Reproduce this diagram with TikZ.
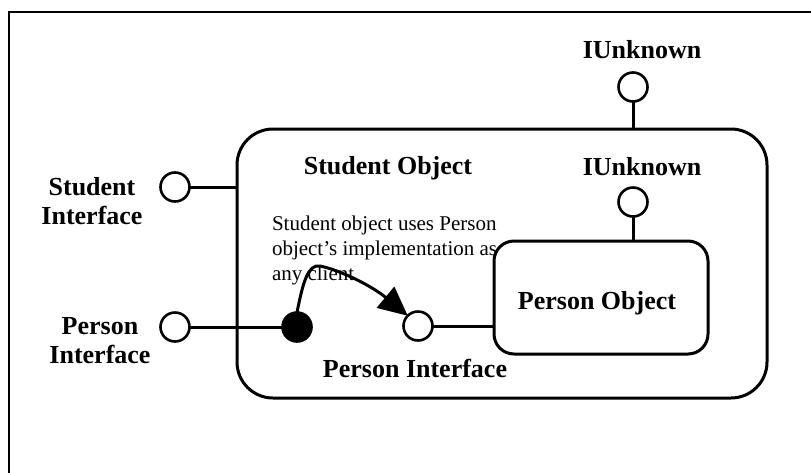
\documentclass[tikz,border=0pt]{standalone}
\usepackage{fontspec}
\setmainfont{Liberation Serif}
\usetikzlibrary{arrows.meta}
\begin{document}
\begin{tikzpicture}[x=1pt,y=-1pt,
  every node/.style={inner sep=0pt, outer sep=0pt},
  lbl/.style={font=\fontsize{26}{29}\selectfont\bfseries, align=center},
  note/.style={font=\fontsize{21}{25}\selectfont, align=left, anchor=north west},
  port/.style={circle, draw, line width=2.6pt, fill=white, minimum size=29pt},
  dotport/.style={port, fill=black},
  objbox/.style={draw, rounded corners=#1, line width=3pt},
  wire/.style={line width=3pt},
  frame/.style={line width=2.8pt},
  uses/.style={line width=3pt, -{Triangle[length=29pt,width=27pt]}}
]
\useasboundingbox (0,0) rectangle (811,472);
\clip (0,0) rectangle (811,472);

% page frame (runs off the right and bottom edges)
\draw[frame] (9,12) rectangle (840,500);

% containing object
\node[objbox=36pt, minimum width=530pt, minimum height=269pt] (student) at (502,263.5) {};
\node[lbl] (studentlbl) at (388,168) {Student Object};

% annotation, partly covered by the inner object
\node[note] (note) at (272,215.5) {Student object uses Person\\object's implementation as\\any client};

% inner object
\node[objbox=20pt, fill=white, minimum width=214pt, minimum height=113pt] (person) at (601,297.5) {};
\node[lbl] (personlbl) at (597,303) {Person Object};

% interface lollipops
\node[port] (iutop) at (633,87) {};
\node[lbl] (iutoplbl) at (642,50) {IUnknown};
\node[port] (iuin) at (633,202) {};
\node[lbl] (iuinlbl) at (642,167) {IUnknown};
\node[port] (sif) at (175,187) {};
\node[lbl] (siflbl) at (92,201) {Student\\Interface};
\node[port] (pif) at (175,327) {};
\node[lbl] (piflbl) at (100,341) {Person\\Interface};
\node[dotport] (impl) at (297,327) {};
\node[port] (pin) at (418,326) {};
\node[lbl] (pinlbl) at (415,368) {Person Interface};

% connections
\draw[wire] (iutop.south) -- (iutop.south |- student.north);
\draw[wire] (iuin.south) -- (iuin.south |- person.north);
\draw[wire] (sif.east) -- (sif.east -| student.west);
\draw[wire] (pif.east) -- (impl.west);
\draw[wire] (pin.east) -- (pin.east -| person.west);

% delegation arrow
\draw[uses] (impl.north) .. controls (303,282) and (308,264) .. (320,266)
  .. controls (340,270) and (372,286) .. (pin.north west);
\end{tikzpicture}
\end{document}
